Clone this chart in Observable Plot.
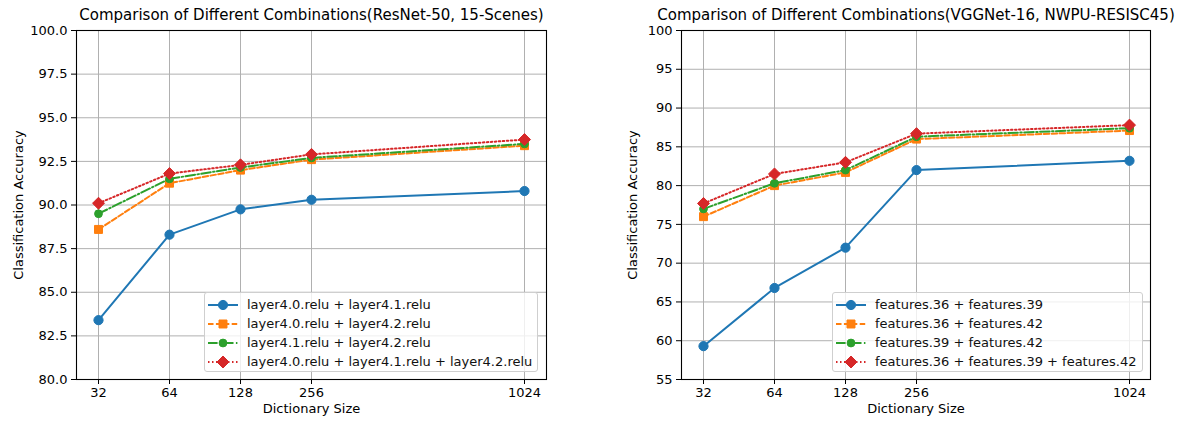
<!DOCTYPE html>
<html><head><meta charset="utf-8">
<script src="https://cdn.jsdelivr.net/npm/d3@7"></script>
<script src="https://cdn.jsdelivr.net/npm/@observablehq/plot@0.6"></script>
<style>
body{margin:0;background:#fff;font-family:"DejaVu Sans",sans-serif;}
#wrap{position:relative;width:1195px;height:421px;overflow:hidden;background:#fff;}
.panel{position:absolute;top:0;}
.legend{position:absolute;background:rgba(255,255,255,0.8);border:1px solid #cfcfcf;border-radius:3px;font-size:13px;color:#111;box-sizing:border-box;padding:2px 0 0 3px;}
.row{display:flex;align-items:center;height:19px;white-space:nowrap;}
.row svg{margin-right:9px;flex:none;}
</style></head><body><div id="wrap"></div>
<script>
// ---- data ----
const sizes = [32, 64, 128, 256, 1024];
const xDomain = [32, 64, 128, 256, "gap-a", "gap-b", 1024];

const leftTitle = "Comparison of Different Combinations(ResNet-50, 15-Scenes)";
const leftNames = [
  "layer4.0.relu + layer4.1.relu",
  "layer4.0.relu + layer4.2.relu",
  "layer4.1.relu + layer4.2.relu",
  "layer4.0.relu + layer4.1.relu + layer4.2.relu"
];
const leftA = [83.4, 88.3, 89.75, 90.3, 90.8];
const leftB = [88.6, 91.25, 92.0, 92.6, 93.4];
const leftC = [89.5, 91.5, 92.15, 92.7, 93.5];
const leftD = [90.1, 91.8, 92.3, 92.9, 93.75];
const leftYTicks = [80, 82.5, 85, 87.5, 90, 92.5, 95, 97.5, 100];

const rightTitle = "Comparison of Different Combinations(VGGNet-16, NWPU-RESISC45)";
const rightNames = [
  "features.36 + features.39",
  "features.36 + features.42",
  "features.39 + features.42",
  "features.36 + features.39 + features.42"
];
const rightA = [59.3, 66.8, 72.0, 82.0, 83.2];
const rightB = [76.0, 80.0, 81.7, 86.0, 87.1];
const rightC = [77.0, 80.3, 82.0, 86.3, 87.4];
const rightD = [77.7, 81.5, 83.0, 86.7, 87.8];
const rightYTicks = [55, 60, 65, 70, 75, 80, 85, 90, 95, 100];

const xLabel = "Dictionary Size";
const yLabel = "Classification Accuracy";

// ---- styles ----
const colors = ["#1f77b4", "#ff7f0e", "#2ca02c", "#d62728"];
const dashes = [null, "5.5,2.4", "9.6,2.4,1.5,2.4", "1.5,2.5"];
const symbols = ["circle", "square", "circle", "diamond2"];
const radii = [4.6, 4.5, 3.9, 5.4];
const d3Symbols = {circle: d3.symbolCircle, square: d3.symbolSquare, diamond2: d3.symbolDiamond2};

function panel(o) {
  const marks = [
    Plot.gridX(sizes, {stroke: "#b0b0b0", strokeOpacity: 1, strokeWidth: 1}),
    Plot.gridY(o.yTicks, {stroke: "#b0b0b0", strokeOpacity: 1, strokeWidth: 1}),
  ];
  o.series.forEach((vals, i) => {
    const data = sizes.map((s, j) => ({size: s, acc: vals[j]}));
    marks.push(Plot.line(data, {x: "size", y: "acc", stroke: colors[i], strokeWidth: 2, strokeDasharray: dashes[i]}));
    marks.push(Plot.dot(data, {x: "size", y: "acc", symbol: symbols[i], r: radii[i], fill: colors[i], stroke: colors[i], strokeWidth: 1}));
  });
  marks.push(
    Plot.frame({stroke: "#000", strokeWidth: 1.1}),
    Plot.axisX(sizes, {tickSize: 5, tickPadding: 3, fontSize: 13, label: null, tickFormat: d3.format("d")}),
    Plot.axisY(o.yTicks, {tickSize: 5, tickPadding: 4, fontSize: 13, label: null, tickFormat: o.yFormat}),
    Plot.text([o.title], {frameAnchor: "top", dy: -21, fontSize: 15, fill: "#000"}),
    Plot.text([xLabel], {frameAnchor: "bottom", dy: 33, fontSize: 13, fill: "#000"}),
    Plot.text([yLabel], {frameAnchor: "left", textAnchor: "middle", dx: -o.yLabelOffset, rotate: -90, fontSize: 13, fill: "#000"})
  );
  return Plot.plot({
    width: o.width, height: 421,
    marginLeft: o.marginLeft, marginRight: o.marginRight, marginTop: 30, marginBottom: 42,
    style: {fontFamily: "DejaVu Sans", fontSize: "13px", color: "#000", background: "#fff", overflow: "visible"},
    x: {type: "point", domain: xDomain, padding: 0.3, align: 0.5},
    y: {domain: o.yDomain},
    marks
  });
}

function legend(names, box) {
  const div = document.createElement("div");
  div.className = "legend";
  Object.assign(div.style, {left: box.left + "px", top: box.top + "px", width: box.width + "px", height: box.height + "px"});
  names.forEach((name, i) => {
    const row = document.createElement("div");
    row.className = "row";
    const svg = d3.create("svg").attr("width", 30).attr("height", 14);
    svg.append("line").attr("x1", 0).attr("x2", 30).attr("y1", 7).attr("y2", 7)
      .attr("stroke", colors[i]).attr("stroke-width", 2).attr("stroke-dasharray", dashes[i]);
    svg.append("path").attr("transform", "translate(15,7)")
      .attr("d", d3.symbol(d3Symbols[symbols[i]], radii[i] * radii[i] * Math.PI)())
      .attr("fill", colors[i]).attr("stroke", colors[i]);
    row.appendChild(svg.node());
    const span = document.createElement("span");
    span.textContent = name;
    row.appendChild(span);
    div.appendChild(row);
  });
  return div;
}

const wrap = document.getElementById("wrap");
const left = panel({title: leftTitle, series: [leftA, leftB, leftC, leftD], yDomain: [80, 100], yTicks: leftYTicks,
  yFormat: d3.format(".1f"), width: 600, marginLeft: 76, marginRight: 54, yLabelOffset: 58});
left.classList.add("panel"); left.style.left = "0px";
const right = panel({title: rightTitle, series: [rightA, rightB, rightC, rightD], yDomain: [55, 100], yTicks: rightYTicks,
  yFormat: d3.format("d"), width: 595, marginLeft: 81, marginRight: 45, yLabelOffset: 49});
right.classList.add("panel"); right.style.left = "600px";
wrap.appendChild(left);
wrap.appendChild(right);
wrap.appendChild(legend(leftNames, {left: 204, top: 292, width: 334, height: 80}));
wrap.appendChild(legend(rightNames, {left: 832, top: 292, width: 311, height: 80}));
</script></body></html>
